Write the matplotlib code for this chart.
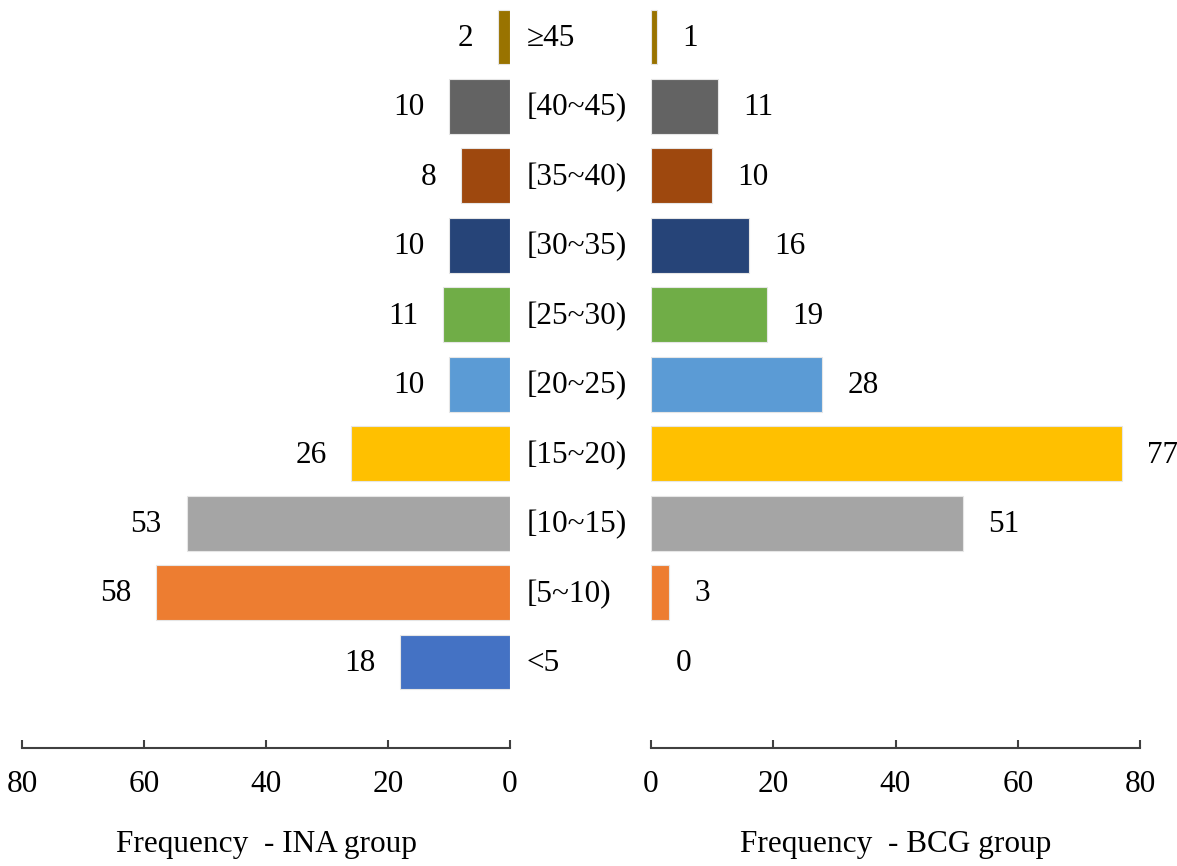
import matplotlib

matplotlib.use("Agg")
import matplotlib.pyplot as plt

categories = ["<5", "[5~10)", "[10~15)", "[15~20)", "[20~25)",
              "[25~30)", "[30~35)", "[35~40)", "[40~45)", "\u226545"]
ina_counts = [18, 58, 53, 26, 10, 11, 10, 8, 10, 2]
bcg_counts = [0, 3, 51, 77, 28, 19, 16, 10, 11, 1]
colors = ["#4472C4", "#ED7D31", "#A5A5A5", "#FFC000", "#5B9BD5",
          "#70AD47", "#264478", "#9E480E", "#636363", "#997300"]

plt.rcParams["font.family"] = ["Liberation Serif", "DejaVu Serif"]
FS = 22.5

W, H = 1177, 866
fig = plt.figure(figsize=(W / 100, H / 100), dpi=100)

bottom = 1 - 748 / H
top = 1 - 2.3 / H
ax_l = fig.add_axes([22 / W, bottom, (510 - 22) / W, top - bottom])
ax_r = fig.add_axes([651 / W, bottom, (1140 - 651) / W, top - bottom])

ypos = list(range(len(categories)))

for ax, vals, side, label in [(ax_l, ina_counts, "left", "Frequency  - INA group"),
                              (ax_r, bcg_counts, "right", "Frequency  - BCG group")]:
    edge = ["#e6e6e6" if v > 0 else "none" for v in vals]
    ax.barh(ypos, vals, height=0.79, color=colors, edgecolor=edge, linewidth=0.8)
    ax.set_ylim(-1.238, 9.5)
    if side == "left":
        ax.set_xlim(80, 0)
    else:
        ax.set_xlim(0, 80)
    ax.set_xticks([0, 20, 40, 60, 80])
    for s in ["top", "left", "right"]:
        ax.spines[s].set_visible(False)
    ax.spines["bottom"].set_color("#404040")
    ax.spines["bottom"].set_linewidth(1.5)
    ax.tick_params(axis="x", direction="in", length=6, width=1.5, color="#404040",
                   labelsize=FS, pad=16)
    ax.set_yticks([])
    ax.set_xlabel(label, fontsize=FS, labelpad=22)
    ax.patch.set_visible(False)
    for y, v in zip(ypos, vals):
        if side == "left":
            ax.annotate(str(v), (v, y), xytext=(-18, -1), textcoords="offset points",
                        ha="right", va="center", fontsize=FS)
        else:
            ax.annotate(str(v), (v, y), xytext=(18, -1), textcoords="offset points",
                        ha="left", va="center", fontsize=FS)

# category labels between the two panels
for y, cat in zip(ypos, categories):
    yf = ax_l.transData.transform((0, y))[1] - 1.5
    fig.text(527 / W, yf / fig.dpi / fig.get_figheight(), cat, ha="left", va="center",
             fontsize=FS)

fig.savefig("out.png", dpi=100)
